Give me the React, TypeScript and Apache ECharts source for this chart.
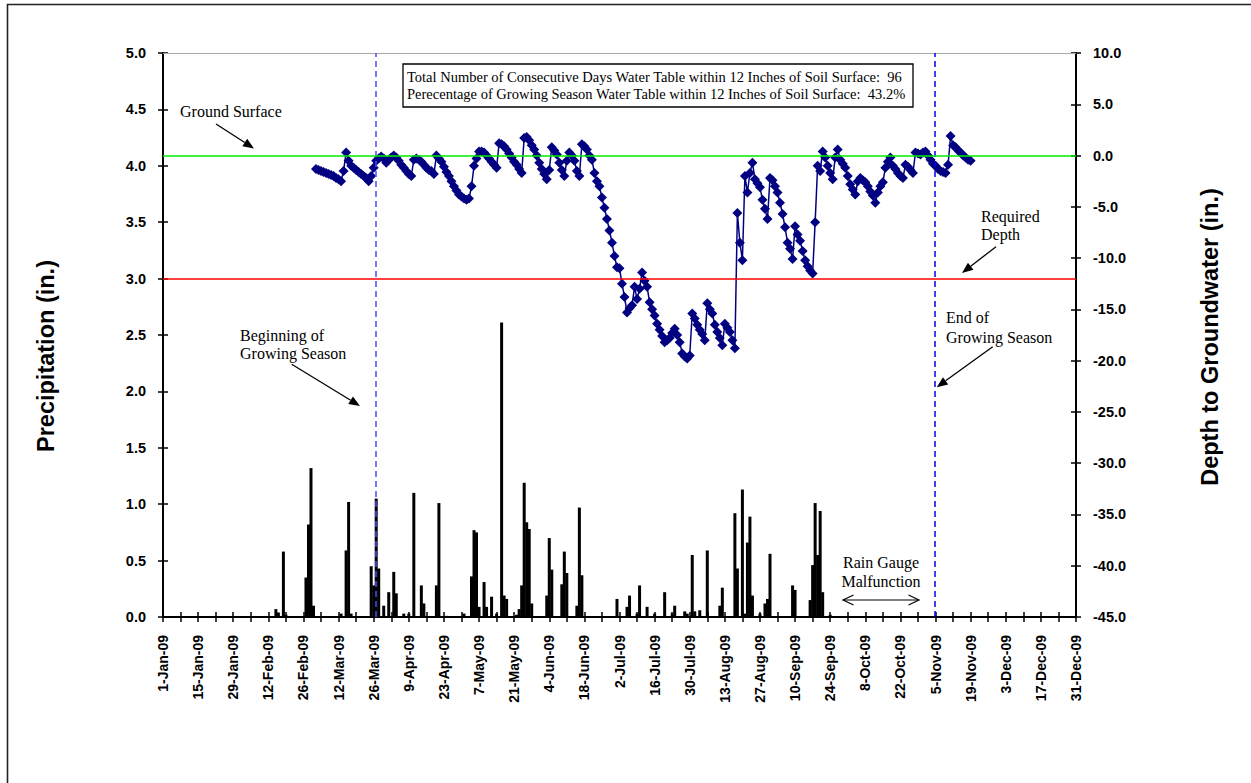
import React, { useEffect, useRef } from "react";
import * as echarts from "echarts";

// ---------- DATA ----------
// day index: 0 = 1-Jan-2009
const precipDays = [45, 46, 48, 49, 57, 58, 59, 60, 71, 73, 74, 75, 83, 84, 85, 86, 88, 90, 92, 93, 96, 98, 100, 103, 104, 109, 110, 113, 120, 123, 124, 125, 126, 128, 129, 131, 133, 135, 136, 137, 141, 142, 143, 144, 145, 146, 147, 153, 154, 155, 159, 160, 161, 165, 166, 167, 181, 185, 186, 189, 190, 193, 196, 200, 203, 204, 208, 209, 211, 212, 214, 217, 222, 223, 228, 229, 231, 232, 233, 234, 235, 238, 240, 241, 242, 251, 252, 258, 259, 260, 261, 262, 263, 266];
const precipInches = [0.07, 0.04, 0.58, 0.02, 0.35, 0.82, 1.32, 0.10, 0.03, 0.59, 1.02, 0.03, 0.45, 0.28, 1.05, 0.43, 0.10, 0.22, 0.40, 0.21, 0.03, 0.03, 1.10, 0.28, 0.12, 0.28, 1.01, 0.01, 0.03, 0.36, 0.77, 0.75, 0.09, 0.31, 0.09, 0.18, 0.03, 2.61, 0.19, 0.16, 0.02, 0.07, 0.28, 1.19, 0.84, 0.78, 0.12, 0.19, 0.70, 0.42, 0.29, 0.58, 0.39, 0.10, 0.97, 0.37, 0.16, 0.09, 0.19, 0.03, 0.28, 0.09, 0.03, 0.22, 0.03, 0.10, 0.05, 0.03, 0.55, 0.05, 0.06, 0.59, 0.10, 0.26, 0.92, 0.43, 1.13, 0.03, 0.66, 0.89, 0.19, 0.03, 0.12, 0.16, 0.56, 0.28, 0.24, 0.15, 0.46, 1.01, 0.55, 0.94, 0.22, 0.02];

const wtDays = [
  61, 62, 63, 64, 65, 66, 67, 68, 69, 70, 71, 72, 73, 74, 75, 76, 77, 78, 79, 80,
  81, 82, 83, 84, 85, 86, 87, 88, 89, 90, 91, 92, 93, 94, 95, 96, 97, 98, 99, 100,
  101, 102, 103, 104, 105, 106, 107, 108, 109, 110, 111, 112, 113, 114, 115, 116, 117, 118, 119, 120,
  121, 122, 123, 124, 125, 126, 127, 128, 129, 130, 131, 132, 133, 134, 135, 136, 137, 138, 139, 140,
  141, 142, 143, 144, 145, 146, 147, 148, 149, 150, 151, 152, 153, 154, 155, 156, 157, 158, 159, 160,
  161, 162, 163, 164, 165, 166, 167, 168, 169, 170, 171, 172, 173, 174, 175, 176, 177, 178, 179, 180,
  181, 182, 183, 184, 185, 186, 187, 188, 189, 190, 191, 192, 193, 194, 195, 196, 197, 198, 199, 200,
  201, 202, 203, 204, 205, 206, 207, 208, 209, 210, 211, 212, 213, 214, 215, 216, 217, 218, 219, 220,
  221, 222, 223, 224, 225, 226, 227, 228, 229, 230, 231, 232, 233, 234, 235, 236, 237, 238, 239, 240,
  241, 242, 243, 244, 245, 246, 247, 248, 249, 250, 251, 252, 253, 254, 255, 256, 257, 258, 259, 260,
  261, 262, 263, 264, 265, 266, 267, 268, 269, 270, 271, 272, 273, 274, 275, 276, 277, 278, 279, 280,
  281, 282, 283, 284, 285, 286, 287, 288, 289, 290, 291, 292, 293, 294, 295, 296, 297, 298, 299, 300,
  301, 302, 303, 304, 305, 306, 307, 308, 309, 310, 311, 312, 313, 314, 315, 316, 317, 318, 319, 320,
  321, 322,
];
const wtDepth = [
  -1.3, -1.4, -1.5, -1.6, -1.7, -1.8, -1.9, -2.0, -2.2, -2.3, -2.5, -1.5, 0.3, -0.5, -1.0, -1.2, -1.4, -1.6, -1.8, -2.0,
  -2.2, -2.5, -2.0, -1.2, -0.5, -0.3, -0.1, -0.3, -0.7, -0.4, -0.2, 0.0, -0.2, -0.5, -0.9, -1.2, -1.5, -1.8, -2.0, -0.4,
  -0.3, -0.4, -0.6, -0.9, -1.2, -1.4, -1.5, -1.8, 0.0, -0.3, -0.6, -1.1, -1.6, -2.0, -2.5, -3.0, -3.4, -3.8, -4.0, -4.2,
  -4.3, -4.2, -3.0, -1.0, -0.3, 0.4, 0.4, 0.3, 0.0, -0.3, -0.6, -0.9, -1.2, 1.2, 1.1, 0.9, 0.6, 0.2, -0.2, -0.6,
  -0.9, -1.3, -1.7, 1.7, 1.8, 1.5, 1.0, 0.6, 0.0, -0.7, -1.3, -1.8, -2.3, -1.4, 0.8, 0.5, 0.1, -0.7, -1.4, -2.0,
  -0.5, 0.3, 0.0, -0.5, -1.5, -2.0, 1.1, 0.9, 0.6, 0.0, -0.4, -1.7, -2.5, -3.0, -4.1, -5.1, -6.2, -7.3, -8.5, -9.8,
  -10.9, -11.0, -12.5, -13.8, -15.3, -14.9, -14.6, -12.8, -14.0, -13.0, -11.4, -12.2, -12.8, -14.3, -15.0, -15.6, -16.4, -17.0, -17.6, -18.2,
  -18.0, -17.8, -17.3, -16.9, -17.5, -18.2, -19.3, -19.6, -19.8, -19.5, -15.4, -15.9, -16.5, -17.0, -17.4, -18.0, -14.4, -15.0, -15.4, -16.5,
  -17.2, -17.8, -18.5, -16.4, -16.8, -17.2, -18.0, -18.8, -5.6, -8.5, -10.2, -2.0, -3.6, -1.7, -0.7, -2.3, -2.7, -3.1, -4.3, -5.2,
  -6.2, -2.2, -2.4, -3.0, -3.6, -4.6, -5.7, -7.0, -8.5, -9.1, -10.1, -6.9, -7.7, -8.3, -9.3, -10.2, -10.8, -11.2, -11.5, -6.5,
  -1.0, -1.5, 0.4, -0.2, -1.0, -1.7, -2.3, -0.2, 0.6, -0.4, -0.8, -1.2, -2.0, -2.8, -3.3, -3.8, -2.5, -2.2, -2.4, -2.6,
  -3.0, -3.5, -3.9, -4.6, -3.6, -3.0, -2.6, -1.2, -0.6, -0.2, -1.0, -1.3, -1.7, -2.0, -2.2, -0.9, -1.1, -1.4, -1.7, 0.3,
  0.2, 0.1, 0.3, 0.4, 0.0, -0.4, -0.8, -1.0, -1.3, -1.5, -1.6, -1.7, -0.9, 1.9, 1.0, 0.8, 0.5, 0.3, 0.0, -0.2,
  -0.4, -0.5,
];

const groundSurface = 0;
const requiredDepth = -12;
const growingSeasonStart = 85;
const growingSeasonEnd = 307.5;
const infoLines = [
  "Total Number of Consecutive Days Water Table within 12 Inches of Soil Surface:  96",
  "Perecentage of Growing Season Water Table within 12 Inches of Soil Surface:  43.2%",
];
const MONTHS = ["Jan", "Feb", "Mar", "Apr", "May", "Jun", "Jul", "Aug", "Sep", "Oct", "Nov", "Dec"];

function dayLabel(v: number): string {
  const d = new Date(2009, 0, 1 + v);
  return `${d.getDate()}-${MONTHS[d.getMonth()]}-09`;
}

function arrow(x1: number, y1: number, x2: number, y2: number, len = 11, half = 4.5): any[] {
  const a = Math.atan2(y2 - y1, x2 - x1);
  const bx = x2 - len * Math.cos(a);
  const by = y2 - len * Math.sin(a);
  const px = -Math.sin(a) * half;
  const py = Math.cos(a) * half;
  return [
    { type: "line", z: 50, shape: { x1, y1, x2: bx, y2: by }, style: { stroke: "#000", lineWidth: 1.3 } },
    { type: "polygon", z: 50, shape: { points: [[x2, y2], [bx + px, by + py], [bx - px, by - py]] }, style: { fill: "#000" } },
  ];
}

const SERIF = '"Liberation Serif", "Times New Roman", serif';
const SANS = '"Liberation Sans", Arial, sans-serif';

function txt(text: string, x: number, y: number, size = 16, align = "left"): any {
  return {
    type: "text", z: 50, x, y,
    style: { text, fontSize: size, fontFamily: SERIF, fill: "#000", align, verticalAlign: "middle" },
  };
}

export default function App() {
  const ref = useRef<HTMLDivElement>(null);
  useEffect(() => {
    if (!ref.current) return;
    const chart = echarts.init(ref.current, undefined, { renderer: "svg" });
    const barData = precipDays.map((d, i) => [d, precipInches[i]]);
    const wtData = wtDays.map((d, i) => [d, wtDepth[i]]);

    const tickCommon = { show: true, length: 5, lineStyle: { color: "#000", width: 1.5 } };
    const xBase = { type: "value", min: 0, max: 364, interval: 7, splitLine: { show: false } };
    const leftBase = { type: "value", min: 0, max: 5, interval: 0.5, position: "left", splitLine: { show: false } };
    const rightBase = { type: "value", min: -45, max: 10, interval: 5, position: "right", splitLine: { show: false } };

    const graphics: any[] = [
      { type: "rect", z: 0, shape: { x: 7.5, y: 4.5, width: 1400, height: 1000 }, style: { fill: "none", stroke: "#222", lineWidth: 1.6 } },
      { type: "rect", z: 40, shape: { x: 403, y: 64, width: 510, height: 43 }, style: { fill: "#fff", stroke: "#000", lineWidth: 1.3 } },
      txt(infoLines[0], 407, 76.5, 14.5),
      txt(infoLines[1], 407, 94, 14.5),
      txt("Ground Surface", 180, 111),
      ...arrow(216, 124, 254, 148.5),
      txt("Beginning of", 240, 335),
      txt("Growing Season", 240, 353),
      ...arrow(291.7, 364.3, 360, 406),
      txt("Required", 981, 216),
      txt("Depth", 981, 234.5),
      ...arrow(996, 246.7, 962, 273),
      txt("End of", 946, 317.5),
      txt("Growing Season", 946, 337),
      ...arrow(992.7, 346.7, 936.7, 387.3),
      txt("Rain Gauge", 881, 562.5, 16, "center"),
      txt("Malfunction", 881, 581, 16, "center"),
      { type: "line", z: 50, shape: { x1: 843, y1: 600, x2: 919, y2: 600 }, style: { stroke: "#000", lineWidth: 1.2 } },
      { type: "polyline", z: 50, shape: { points: [[853.5, 595], [843, 600], [853.5, 605]] }, style: { stroke: "#000", lineWidth: 1.2, fill: "none" } },
      { type: "polyline", z: 50, shape: { points: [[908.5, 595], [919, 600], [908.5, 605]] }, style: { stroke: "#000", lineWidth: 1.2, fill: "none" } },
      {
        type: "text", z: 50, x: 46, y: 356, rotation: Math.PI / 2,
        style: { text: "Precipitation (in.)", fontSize: 23.5, fontWeight: "bold", fontFamily: SANS, fill: "#000", align: "center", verticalAlign: "middle" },
      },
      {
        type: "text", z: 50, x: 1210, y: 337, rotation: Math.PI / 2,
        style: { text: "Depth to Groundwater (in.)", fontSize: 23.5, fontWeight: "bold", fontFamily: SANS, fill: "#000", align: "center", verticalAlign: "middle" },
      },
    ];

    chart.setOption({
      animation: false,
      backgroundColor: "#fff",
      grid: { left: 163, right: 175, top: 53, bottom: 166, containLabel: false },
      xAxis: [
        {
          ...xBase,
          position: "bottom",
          axisLine: { show: true, onZero: false, lineStyle: { color: "#000", width: 2 } },
          axisTick: { ...tickCommon, inside: false },
          axisLabel: {
            rotate: 90, margin: 18, color: "#000", fontSize: 14, fontWeight: "bold", fontFamily: SANS,
            formatter: (v: number) => (v % 14 === 0 ? dayLabel(v) : ""),
          },
        },
        {
          ...xBase,
          position: "bottom",
          axisLine: { show: false, onZero: false },
          axisTick: { ...tickCommon, inside: true },
          axisLabel: { show: false },
        },
      ],
      yAxis: [
        {
          ...leftBase,
          axisLine: { show: true, onZero: false, lineStyle: { color: "#000", width: 2 } },
          axisTick: { ...tickCommon, inside: false },
          axisLabel: { margin: 17, color: "#000", fontSize: 14.5, fontWeight: "bold", fontFamily: SANS, formatter: (v: number) => v.toFixed(1) },
        },
        {
          ...rightBase,
          axisLine: { show: true, onZero: false, lineStyle: { color: "#000", width: 2 } },
          axisTick: { ...tickCommon, inside: false },
          axisLabel: { margin: 17, color: "#000", fontSize: 14.5, fontWeight: "bold", fontFamily: SANS, formatter: (v: number) => v.toFixed(1) },
        },
        {
          ...leftBase,
          axisLine: { show: false, onZero: false },
          axisTick: { ...tickCommon, inside: true },
          axisLabel: { show: false },
        },
        {
          ...rightBase,
          axisLine: { show: false, onZero: false },
          axisTick: { ...tickCommon, inside: true },
          axisLabel: { show: false },
        },
      ],
      series: [
        {
          name: "Precipitation",
          type: "bar",
          xAxisIndex: 0,
          yAxisIndex: 0,
          data: barData,
          barWidth: 3,
          itemStyle: { color: "#000" },
          markLine: {
            silent: true,
            symbol: "none",
            label: { show: false },
            data: [
              { yAxis: 5, lineStyle: { color: "#a8a8a8", width: 1, type: "solid" } },
              { xAxis: growingSeasonStart, lineStyle: { color: "#4a4aff", width: 1.5, type: [6, 4] } },
              { xAxis: growingSeasonEnd, lineStyle: { color: "#0000ee", width: 1.5, type: [6, 4] } },
            ],
          },
        },
        {
          name: "Water Table",
          type: "line",
          xAxisIndex: 0,
          yAxisIndex: 1,
          data: wtData,
          symbol: "diamond",
          symbolSize: 10,
          itemStyle: { color: "#000080" },
          lineStyle: { color: "#000080", width: 1.5 },
          markLine: {
            silent: true,
            symbol: "none",
            label: { show: false },
            data: [
              { yAxis: groundSurface, lineStyle: { color: "#00ee00", width: 1.5, type: "solid" } },
              { yAxis: requiredDepth, lineStyle: { color: "#ff0000", width: 1.5, type: "solid" } },
            ],
          },
        },
      ],
      graphic: graphics,
    });
    return () => chart.dispose();
  }, []);
  return <div ref={ref} style={{ position: "absolute", left: 0, top: 0, width: 1251, height: 783 }} />;
}
